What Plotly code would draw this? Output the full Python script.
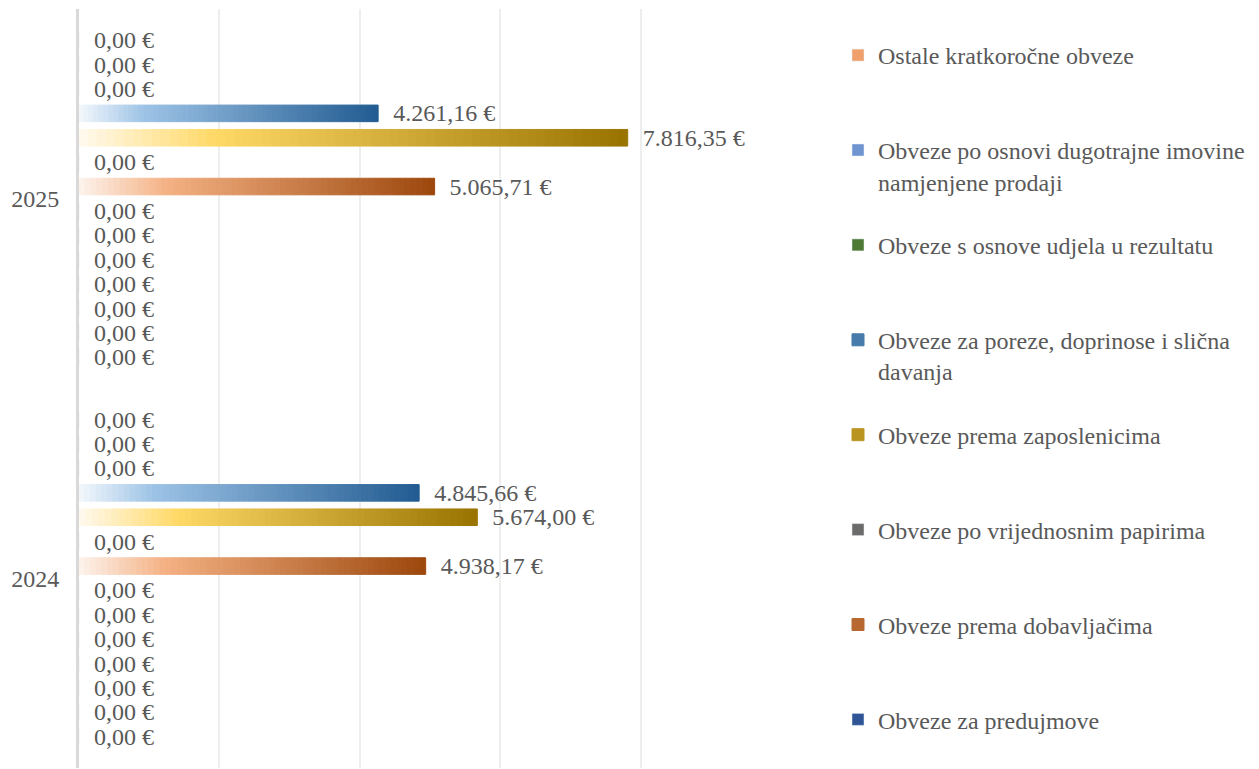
import plotly.graph_objects as go

categories = ["2024", "2025"]

series_names = [
    "Obveze prema poduzetnicima unutar grupe",
    "Obveze za zajmove, depozite i slično poduzetnika unutar grupe",
    "Obveze prema društvima povezanim sudjelujućim interesom",
    "Obveze za zajmove, depozite i slično društava povezanih sudjelujućim interesom",
    "Obveze za zajmove, depozite i slično",
    "Obveze prema bankama i drugim financijskim institucijama",
    "Obveze za predujmove",
    "Obveze prema dobavljačima",
    "Obveze po vrijednosnim papirima",
    "Obveze prema zaposlenicima",
    "Obveze za poreze, doprinose i slična<br>davanja",
    "Obveze s osnove udjela u rezultatu",
    "Obveze po osnovi dugotrajne imovine<br>namjenjene prodaji",
    "Ostale kratkoročne obveze",
]

values_2024 = [0, 0, 0, 0, 0, 0, 0, 4938.17, 0, 5674.00, 4845.66, 0, 0, 0]
values_2025 = [0, 0, 0, 0, 0, 0, 0, 5065.71, 0, 7816.35, 4261.16, 0, 0, 0]

legend_colors = [
    "#5b9bd5", "#ed7d31", "#a5a5a5", "#ffc000", "#4472c4", "#70ad47",
    "#2f5597", "#b5561a", "#6b6b6b", "#b08a10", "#2a6099", "#4f7a34",
    "#7094d0", "#f0a06a",
]

# gradient stops (fraction along bar, colour) for the bars with values
gradients = {
    7: [(0.0, "#fdf4ee"), (0.25, "#f4b183"), (1.0, "#9c470c")],
    9: [(0.0, "#fffaf0"), (0.25, "#ffd966"), (1.0, "#997300")],
    10: [(0.0, "#f4f8fc"), (0.22, "#9dc3e6"), (1.0, "#215b91")],
}

N_SEG = 60
FONT = "Liberation Serif, Times New Roman, serif"
TXT = "#595959"


def hex2rgb(h):
    h = h.lstrip("#")
    return tuple(int(h[i:i + 2], 16) for i in (0, 2, 4))


def grad(stops, t):
    for (t0, c0), (t1, c1) in zip(stops[:-1], stops[1:]):
        if t <= t1:
            f = (t - t0) / (t1 - t0) if t1 > t0 else 0
            a, b = hex2rgb(c0), hex2rgb(c1)
            return "rgb(%d,%d,%d)" % tuple(round(a[i] + (b[i] - a[i]) * f) for i in range(3))
    return stops[-1][1]


def fmt(v):
    s = f"{v:,.2f}"
    return s.replace(",", "X").replace(".", ",").replace("X", ".") + " €"


def legend_name(i, name):
    # every legend slot is two lines tall (except the bottom one) so that
    # first lines are evenly spaced, as in the reference
    if "<br>" in name or i == 6:
        return name
    return name + "<br>\u00a0"


fig = go.Figure()
for i, name in enumerate(series_names):
    v24, v25 = values_2024[i], values_2025[i]
    labels = ["\u2002" + fmt(v24), "\u2002" + fmt(v25)]
    common = dict(
        y=categories, orientation="h", offsetgroup=str(i),
        textposition="outside", constraintext="none", cliponaxis=False,
        textfont=dict(family=FONT, size=24, color=TXT),
        hoverinfo="skip", legendrank=1000 - i,
        name=legend_name(i, name), legendgroup="g%d" % i,
    )
    if i not in gradients:
        fig.add_trace(go.Bar(
            x=[v24, v25], text=labels,
            marker=dict(color=legend_colors[i]),
            showlegend=i >= 6, **common,
        ))
    else:
        stops = gradients[i]
        for k in range(N_SEG):
            t = (k + 0.5) / N_SEG
            c = grad(stops, t)
            fig.add_trace(go.Bar(
                x=[v24 / N_SEG, v25 / N_SEG],
                base=[v24 * k / N_SEG, v25 * k / N_SEG],
                text=labels if k == N_SEG - 1 else None,
                marker=dict(color=c, line=dict(width=1, color=c)),
                showlegend=(k == int(0.75 * N_SEG)),
                **common,
            ))

fig.update_layout(
    width=1259, height=769,
    barmode="group", bargap=0.10, bargroupgap=0.32,
    plot_bgcolor="white", paper_bgcolor="white",
    margin=dict(l=79, r=478, t=9, b=1),
    font=dict(family=FONT, size=24, color=TXT),
    xaxis=dict(
        range=[0, 10000], dtick=2000, showticklabels=False,
        showgrid=True, gridcolor="#eeeeee", gridwidth=1.5,
        zeroline=False, showline=False,
    ),
    yaxis=dict(
        type="category", categoryorder="array", categoryarray=categories,
        showline=True, linecolor="#d9d9d9", linewidth=3,
        showgrid=False, ticks="", ticklabelstandoff=12,
        tickfont=dict(family=FONT, size=24, color=TXT),
    ),
    legend=dict(
        xref="container", yref="container", x=838 / 1259, y=1 - 33 / 769,
        xanchor="left", yanchor="top", valign="top",
        traceorder="grouped", tracegroupgap=29.5,
        font=dict(family=FONT, size=24, color=TXT),
        bgcolor="rgba(0,0,0,0)",
    ),
    showlegend=True,
)
try:
    fig.update_layout(legend_maxheight=760)
except Exception:
    pass

fig.write_html(
    "out.html",
    config={"displayModeBar": False},
    post_script="document.body.style.margin='0';",
)
